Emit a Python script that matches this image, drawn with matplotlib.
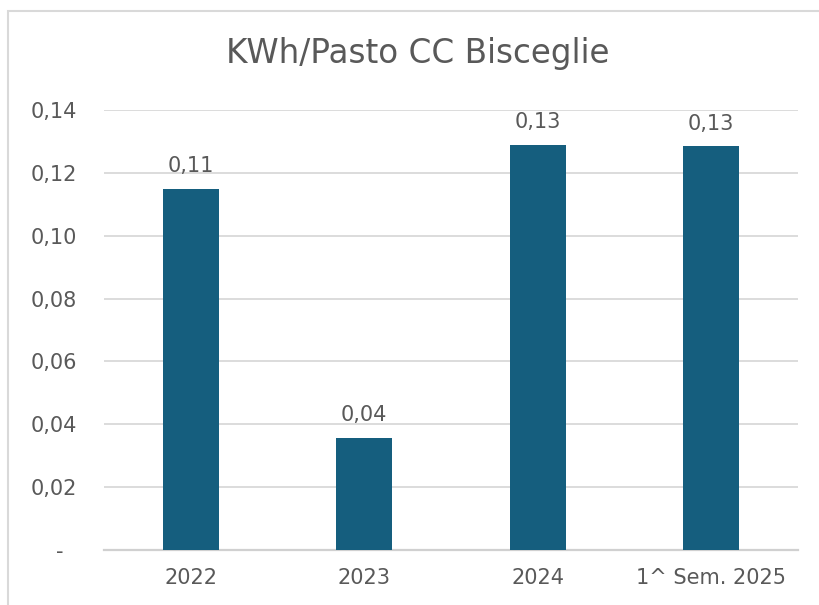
import matplotlib.pyplot as plt
from matplotlib.patches import Rectangle

# Dati
categorie = ['2022', '2023', '2024', '1^ Sem. 2025']
valori = [0.115, 0.0357, 0.1289, 0.1285]
etichette = ['0,11', '0,04', '0,13', '0,13']
y_ticks = [0, 0.02, 0.04, 0.06, 0.08, 0.10, 0.12, 0.14]
y_labels = ['-  ', '0,02', '0,04', '0,06', '0,08', '0,10', '0,12', '0,14']

grigio = '#595959'

fig = plt.figure(figsize=(8.19, 6.05), dpi=100)
ax = fig.add_axes([104/819, 1 - 550/605, 694/819, 440/605])

# cornice del grafico (tagliata a destra e in basso come nello screenshot)
fig.patches.append(Rectangle((8/819, -0.1), 1.2, 1.1 - 11/605, transform=fig.transFigure,
                             fill=False, edgecolor='#d9d9d9', linewidth=1.5))

x = range(len(categorie))
ax.bar(x, valori, width=0.32, color='#155e7e', zorder=3)
for i, v in enumerate(valori):
    ax.text(i, v + 0.004, etichette[i], ha='center', va='bottom',
            fontsize=15, color=grigio)

ax.set_xlim(-0.5, len(categorie) - 0.5)
ax.set_ylim(0, 0.14)
ax.set_yticks(y_ticks)
ax.set_yticklabels(y_labels)
ax.set_xticks(list(x))
ax.set_xticklabels(categorie)
ax.tick_params(axis='y', length=0, pad=19.5, labelsize=15, labelcolor=grigio)
ax.tick_params(axis='x', length=0, pad=13, labelsize=15, labelcolor=grigio)

ax.grid(axis='y', color='#d9d9d9', linewidth=1.3, zorder=0)
for s in ['top', 'right', 'left']:
    ax.spines[s].set_visible(False)
ax.spines['bottom'].set_color('#d0d0d0')
ax.spines['bottom'].set_linewidth(1.6)

fig.text(418/819, 1 - 63/605, 'KWh/Pasto CC Bisceglie', ha='center', va='baseline',
         fontsize=23.5, color=grigio)

fig.savefig('out.png', dpi=100)
